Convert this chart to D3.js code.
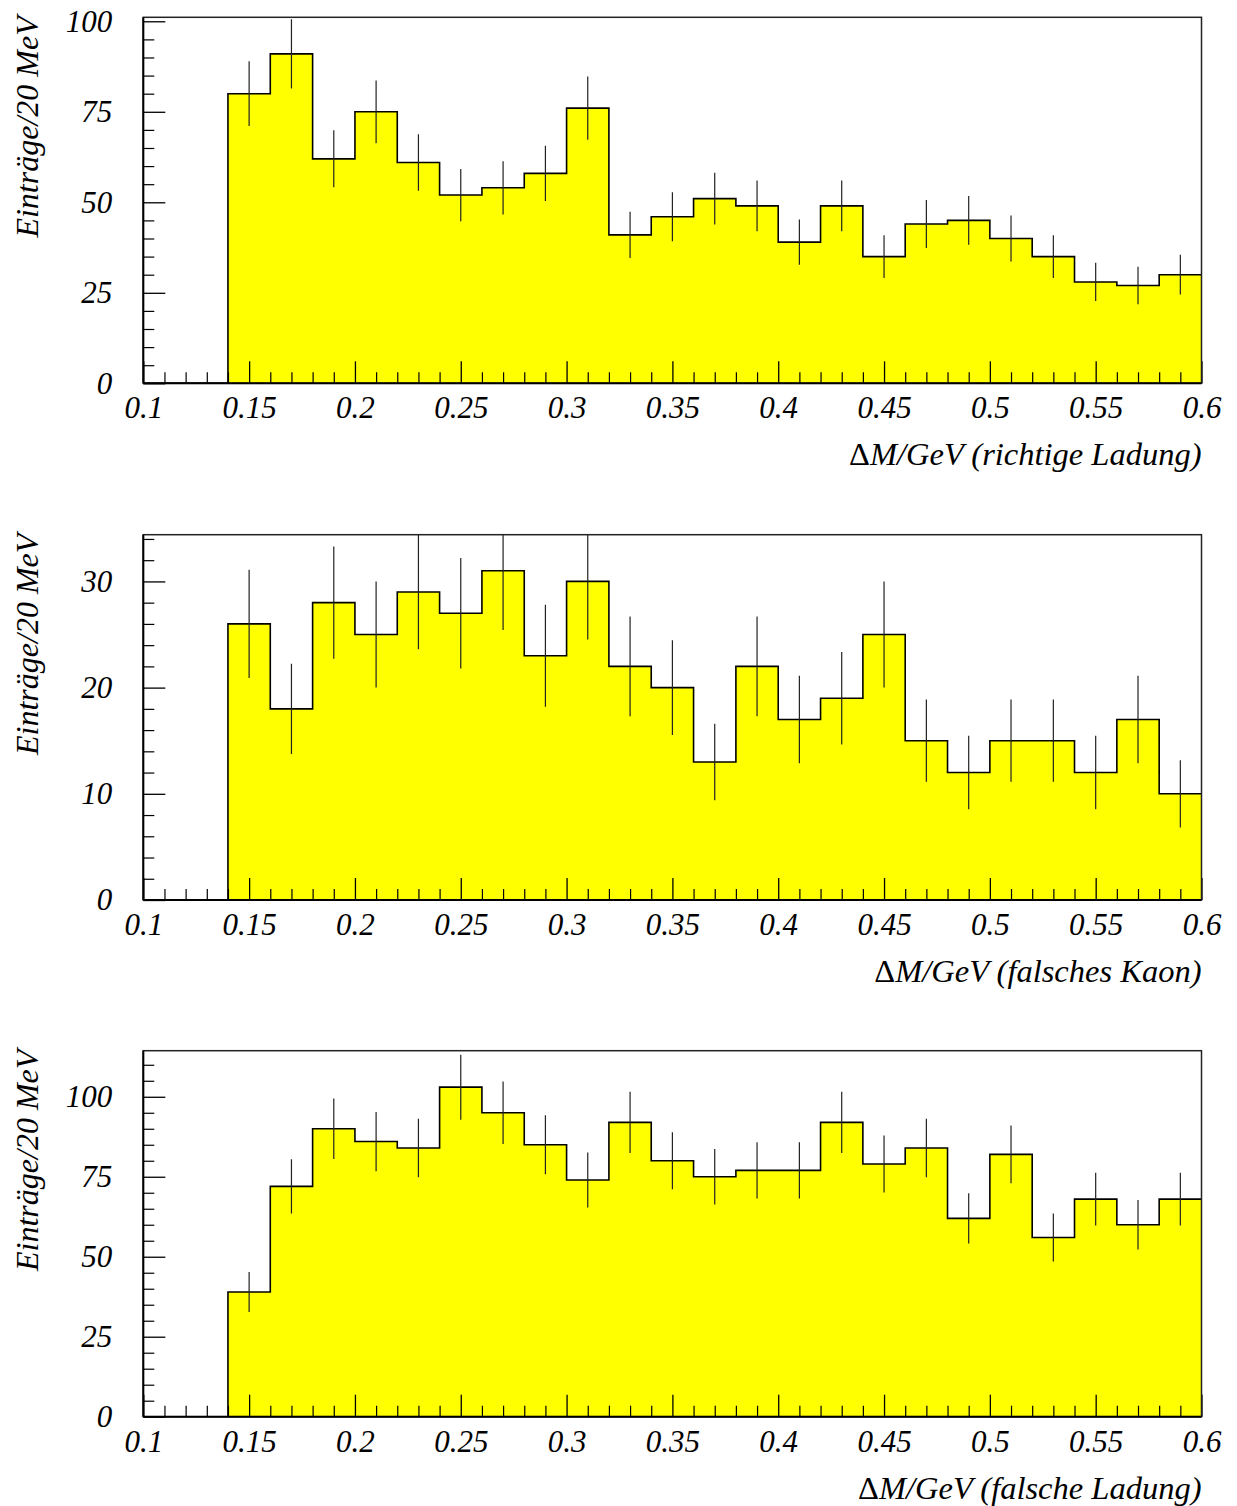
<!DOCTYPE html>
<html>
<head>
<meta charset="utf-8">
<script src="https://cdn.jsdelivr.net/npm/d3@7"></script>
<style>
  html, body { margin: 0; padding: 0; background: #fff; }
  svg { display: block; }
  text { font-family: "Liberation Serif", "Times New Roman", serif; font-style: italic; fill: #000; }
</style>
</head>
<body>
<svg id="chart" width="1237" height="1506"></svg>
<script>
// ---- data ----
const binLow = [0.10, 0.12, 0.14, 0.16, 0.18, 0.20, 0.22, 0.24, 0.26, 0.28, 0.30, 0.32, 0.34,
                0.36, 0.38, 0.40, 0.42, 0.44, 0.46, 0.48, 0.50, 0.52, 0.54, 0.56, 0.58];
const binHigh = [0.12, 0.14, 0.16, 0.18, 0.20, 0.22, 0.24, 0.26, 0.28, 0.30, 0.32, 0.34, 0.36,
                 0.38, 0.40, 0.42, 0.44, 0.46, 0.48, 0.50, 0.52, 0.54, 0.56, 0.58, 0.60];
const richtigeLadung = [0, 0, 80, 91, 62, 75, 61, 52, 54, 58, 76, 41, 46, 51, 49, 39, 49, 35, 44, 45, 40, 35, 28, 27, 30];
const falschesKaon   = [0, 0, 26, 18, 28, 25, 29, 27, 31, 23, 30, 22, 20, 13, 22, 17, 19, 25, 15, 12, 15, 15, 12, 17, 10];
const falscheLadung  = [0, 0, 39, 72, 90, 86, 84, 103, 95, 85, 74, 92, 80, 75, 77, 77, 92, 79, 84, 62, 82, 56, 68, 60, 68];

const xMajorTicks = [0.1, 0.15, 0.2, 0.25, 0.3, 0.35, 0.4, 0.45, 0.5, 0.55, 0.6];
const xTickLabels = ["0.1", "0.15", "0.2", "0.25", "0.3", "0.35", "0.4", "0.45", "0.5", "0.55", "0.6"];
const xMinorTicks = [0.11,0.12,0.13,0.14,0.16,0.17,0.18,0.19,0.21,0.22,0.23,0.24,0.26,0.27,0.28,0.29,
                     0.31,0.32,0.33,0.34,0.36,0.37,0.38,0.39,0.41,0.42,0.43,0.44,0.46,0.47,0.48,0.49,
                     0.51,0.52,0.53,0.54,0.56,0.57,0.58,0.59];

const yMajor1 = [0, 25, 50, 75, 100];
const yMinor1 = [5,10,15,20,30,35,40,45,55,60,65,70,80,85,90,95];
const yMajor2 = [0, 10, 20, 30];
const yMinor2 = [2,4,6,8,12,14,16,18,22,24,26,28,32,34];
const yMajor3 = [0, 25, 50, 75, 100];
const yMinor3 = [5,10,15,20,30,35,40,45,55,60,65,70,80,85,90,95,105,110];

const yTop = [101.1, 34.4, 114.4];
const xTitles = ["(richtige Ladung)", "(falsches Kaon)", "(falsche Ladung)"];
const yTitle = "Einträge/20 MeV";

// ---- layout ----
const left = 143.3, right = 1201.5;
const panels = [
  { values: richtigeLadung, top: 17.3,  bottom: 383.3,  yMax: yTop[0], major: yMajor1, minor: yMinor1, title: xTitles[0] },
  { values: falschesKaon,   top: 534.7, bottom: 900.0,  yMax: yTop[1], major: yMajor2, minor: yMinor2, title: xTitles[1] },
  { values: falscheLadung,  top: 1050.7, bottom: 1416.7, yMax: yTop[2], major: yMajor3, minor: yMinor3, title: xTitles[2] }
];

const svg = d3.select("#chart");
const x = d3.scaleLinear().domain([0.1, 0.6]).range([left, right]);
const FS = 31;

panels.forEach((p, i) => {
  const y = d3.scaleLinear().domain([0, p.yMax]).range([p.bottom, p.top]);
  const g = svg.append("g");
  const clipId = "clip" + i;
  svg.append("clipPath").attr("id", clipId)
    .append("rect").attr("x", left).attr("y", p.top).attr("width", right - left).attr("height", p.bottom - p.top);

  const bins = binLow.map((lo, k) => ({ lo, hi: binHigh[k], v: p.values[k] }));
  const pts = bins.map(b => [b.lo, b.v]).concat([[binHigh[binHigh.length - 1], bins[bins.length - 1].v]]);

  const area = d3.area().x(d => x(d[0])).y0(y(0)).y1(d => y(d[1])).curve(d3.curveStepAfter);
  const line = d3.line().x(d => x(d[0])).y(d => y(d[1])).curve(d3.curveStepAfter);

  const plot = g.append("g").attr("clip-path", `url(#${clipId})`);
  plot.append("path").datum(pts).attr("d", area).attr("fill", "#ffff00");
  plot.append("path").datum(pts).attr("d", line).attr("fill", "none")
    .attr("stroke", "#000").attr("stroke-width", 1.6);

  // error bars (sqrt N)
  plot.selectAll("line.err").data(bins.filter(b => b.v > 0)).enter().append("line")
    .attr("x1", b => x((b.lo + b.hi) / 2)).attr("x2", b => x((b.lo + b.hi) / 2))
    .attr("y1", b => y(b.v + Math.sqrt(b.v))).attr("y2", b => y(b.v - Math.sqrt(b.v)))
    .attr("stroke", "#222").attr("stroke-width", 1.2);

  // y axis: major ticks with labels (inward)
  const yAx = g.append("g").attr("transform", `translate(${left},0)`)
    .call(d3.axisLeft(y).tickValues(p.major).tickSize(-22).tickPadding(31).tickFormat(d3.format("d")));
  yAx.select(".domain").remove();
  yAx.selectAll("line").attr("stroke", "#000").attr("stroke-width", 1.3);
  yAx.selectAll("text").attr("font-size", FS).attr("font-family", "Liberation Serif").attr("font-style", "italic").attr("fill", "#000");
  const yMin = g.append("g").attr("transform", `translate(${left},0)`)
    .call(d3.axisLeft(y).tickValues(p.minor).tickSize(-11).tickFormat(""));
  yMin.select(".domain").remove();
  yMin.selectAll("line").attr("stroke", "#000").attr("stroke-width", 1.2);

  // x axis
  const xAx = g.append("g").attr("transform", `translate(0,${p.bottom})`)
    .call(d3.axisBottom(x).tickValues(xMajorTicks).tickSize(-22).tickPadding(13)
      .tickFormat((d, k) => xTickLabels[k]));
  xAx.select(".domain").remove();
  xAx.selectAll("line").attr("stroke", "#000").attr("stroke-width", 1.3);
  xAx.selectAll("text").attr("font-size", FS).attr("font-family", "Liberation Serif").attr("font-style", "italic").attr("fill", "#000");
  const xMin = g.append("g").attr("transform", `translate(0,${p.bottom})`)
    .call(d3.axisBottom(x).tickValues(xMinorTicks).tickSize(-11).tickFormat(""));
  xMin.select(".domain").remove();
  xMin.selectAll("line").attr("stroke", "#000").attr("stroke-width", 1.2);

  // frame
  g.append("rect").attr("x", left).attr("y", p.top).attr("width", right - left).attr("height", p.bottom - p.top)
    .attr("fill", "none").attr("stroke", "#222").attr("stroke-width", 1.5);
  g.append("line").attr("x1", left).attr("x2", right).attr("y1", p.bottom).attr("y2", p.bottom)
    .attr("stroke", "#000").attr("stroke-width", 2);
  g.append("line").attr("x1", left).attr("x2", left).attr("y1", p.top).attr("y2", p.bottom)
    .attr("stroke", "#000").attr("stroke-width", 2);

  // x title
  const xt = g.append("text").attr("x", right).attr("y", p.bottom + 82).attr("text-anchor", "end")
    .attr("font-size", 32.5);
  xt.append("tspan").attr("font-style", "normal").text("Δ");
  xt.append("tspan").text("M/GeV " + p.title);

  // y title
  g.append("text").attr("transform", `translate(38,${p.top - 1}) rotate(-90)`)
    .attr("text-anchor", "end").attr("font-size", 32).text(yTitle);
});
</script>
</body>
</html>
